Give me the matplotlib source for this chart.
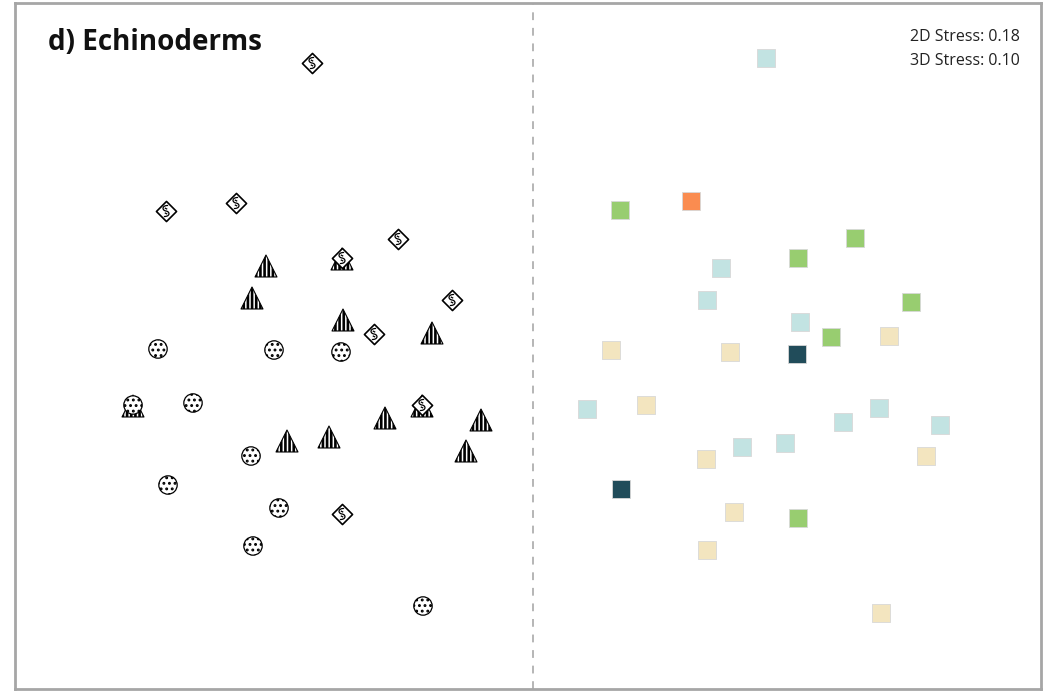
import numpy as np
import matplotlib
matplotlib.use("Agg")
import matplotlib.pyplot as plt
from matplotlib.path import Path

# ordination scores, left panel (symbols by habitat group)
div_x = [312, 166, 236, 398, 342, 452, 374, 422, 342]
div_y = [63, 211, 203, 239, 258, 300, 334, 405, 514]

tri_x = [266, 252, 343, 432, 385, 329, 287, 481, 466, 342, 422, 133]
tri_y = [266, 298, 320, 333, 418, 437, 441, 420, 451, 259, 406, 406]

dot_x = [158, 274, 341, 193, 251, 168, 279, 253, 423, 133]
dot_y = [349, 350, 352, 403, 456, 485, 508, 546, 606, 405]

# right panel, coloured by cluster
sq_groups = {
    "light": ([766, 721, 707, 800, 587, 742, 785, 843, 879, 940],
              [58, 268, 300, 322, 409, 447, 443, 422, 408, 425]),
    "green": ([620, 798, 855, 911, 831, 798],
              [210, 258, 238, 302, 337, 518]),
    "orange": ([691], [201]),
    "beige": ([611, 730, 889, 646, 706, 926, 734, 707, 881],
              [350, 352, 336, 405, 459, 456, 512, 550, 613]),
    "dark": ([797, 621], [354, 489]),
}
sq_colors = {
    "light": "#c2e3e2",
    "green": "#98cd70",
    "orange": "#fa8c50",
    "beige": "#f3e5bf",
    "dark": "#214c5a",
}

title = "d) Echinoderms"
stress_lines = ["2D Stress: 0.18", "3D Stress: 0.10"]

W, H = 1048, 692
fig = plt.figure(figsize=(W / 100, H / 100), dpi=100)
ax = fig.add_axes([15 / W, 3 / H, 1026 / W, 686 / H])
ax.set_xlim(15, 1041)
ax.set_ylim(689, 3)
ax.set_xticks([])
ax.set_yticks([])
for sp in ax.spines.values():
    sp.set_color("#a6a6a6")
    sp.set_linewidth(2.0)

ax.axvline(533, color="#b5b5b5", lw=1.4, ls=(0, (4, 4)), zorder=1)

# S-shaped squiggle drawn inside the diamonds
squig = Path(
    [(0.35, 0.9), (-0.7, 0.95), (-0.7, 0.1), (0.0, 0.0),
     (0.7, -0.1), (0.7, -0.95), (-0.35, -0.9),
     (-0.2, 0.5), (0.2, 0.3),
     (0.2, -0.5), (-0.2, -0.3)],
    [Path.MOVETO, Path.CURVE4, Path.CURVE4, Path.CURVE4,
     Path.CURVE4, Path.CURVE4, Path.CURVE4,
     Path.MOVETO, Path.LINETO,
     Path.MOVETO, Path.LINETO],
)

with plt.rc_context({'hatch.linewidth': 1.9}):
    ax.scatter(tri_x, tri_y, marker="^", s=250, facecolor="white",
               edgecolor="black", hatch="||||", linewidths=0.8, zorder=3)
with plt.rc_context({'hatch.linewidth': 1.3}):
    ax.scatter(dot_x, dot_y, marker="o", s=175, facecolor="white",
               edgecolor="black", hatch="...", linewidths=0.9, zorder=4)
ax.scatter(div_x, div_y, marker="D", s=105, facecolor="white",
           edgecolor="black", linewidths=1.2, zorder=5)
ax.scatter(div_x, div_y, marker=squig, s=70, facecolor="none",
           edgecolor="black", linewidths=0.9, zorder=6)

for key, (xs, ys) in sq_groups.items():
    ax.scatter(xs, ys, marker="s", s=150, color=sq_colors[key],
               edgecolor="#d8d8d8", linewidths=0.6, zorder=3)

ax.text(48, 42, title, fontsize=20, fontweight="bold", family="Open Sans",
        ha="left", va="center", color="#111111")
ax.text(1020, 37, stress_lines[0], fontsize=11.5, family="Open Sans",
        ha="right", va="center", color="#222222")
ax.text(1020, 61, stress_lines[1], fontsize=11.5, family="Open Sans",
        ha="right", va="center", color="#222222")

fig.savefig("out.png", dpi=100)
